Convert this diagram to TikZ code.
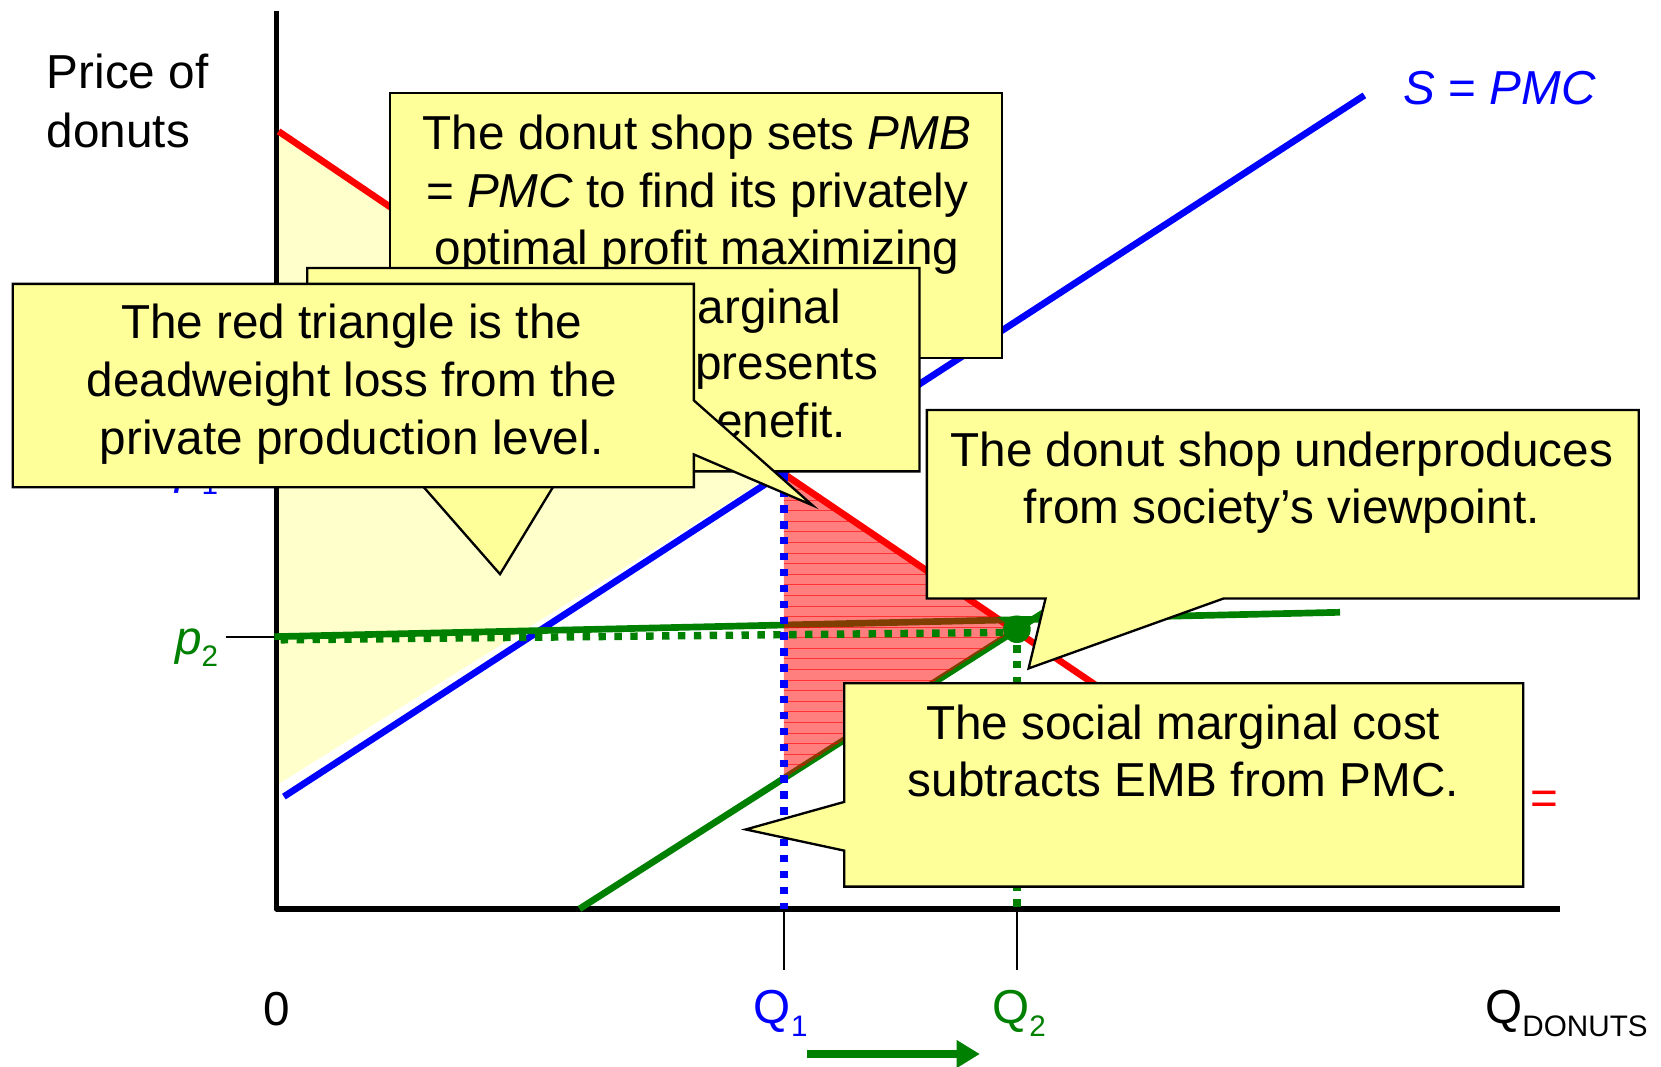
\documentclass[tikz,border=0pt]{standalone}
\usepackage{fontspec}
\setmainfont{Liberation Sans}
\usetikzlibrary{arrows.meta}
\definecolor{cyel}{HTML}{FFFF99}
\definecolor{syel}{HTML}{FFFFCC}
\definecolor{dgreen}{HTML}{008000}
\definecolor{cblue}{HTML}{0000FF}
\newcommand{\bigtxt}{\fontsize{45}{54}\selectfont}
\newcommand{\subtxt}{\fontsize{28}{30}\selectfont}
\begin{document}
\begin{tikzpicture}[x=1pt,y=-1pt,
  txt/.style={inner sep=0pt,font=\bigtxt,anchor=base},
  callout/.style={fill=cyel,draw=black,line width=2.2pt,line join=miter},
  curve/.style={line width=6.3pt},
  dotline/.style={line width=7pt,dash pattern=on 7pt off 8pt},
  tickline/.style={line width=1.8pt}]
\useasboundingbox (0,0) rectangle (1568,1007);
% key points
\coordinate (ytop) at (261,10);
\coordinate (O) at (261,858);
\coordinate (xend) at (1473,858);
\coordinate (dA) at (263,124);
\coordinate (dB) at (1200,759);
\coordinate (sA) at (268,752);
\coordinate (sB) at (1288,90);
\coordinate (gA) at (547,858);
\coordinate (gB) at (1020,556);
\coordinate (E1) at (740,447);
\coordinate (E2) at (958,594);
\coordinate (E3) at (740,735);
\coordinate (Q1b) at (740,858);
\coordinate (Q1t) at (740,916);
\coordinate (Q2d) at (960,594);
\coordinate (Q2b) at (960,858);
\coordinate (Q2t) at (960,916);
% surplus area
\fill[syel] (263,124) -- (738,443) -- (263,740) -- cycle;
% axes
\draw[line width=5.5pt,line join=round] (ytop) -- (O) -- (xend);
% curves
\draw[red,curve] (dA) -- (dB);
\draw[cblue,curve] (sA) -- (sB);
\draw[dgreen,curve] (gA) -- (gB);
\draw[dgreen,curve] (259,601) -- (1265,578);
% deadweight loss triangle
\fill[red,fill opacity=0.5] (E1) -- (E2) -- (E3) -- cycle;
\begin{scope}
\clip (E1) -- (E2) -- (E3) -- cycle;
\foreach \yy in {452,462,...,742} \draw[red,line width=0.8pt,opacity=0.6] (735,\yy) -- (965,\yy);
\end{scope}
% dotted guides
\draw[dgreen,dotline] (265,604) -- (950,597);
\draw[cblue,dotline] (E1) -- (Q1b);
\draw[dgreen,dotline] (Q2d) -- (Q2b);
\fill[dgreen] (Q2d) circle[radius=13pt];
% ticks
\draw[tickline] (Q1b) -- (Q1t);
\draw[tickline] (Q2b) -- (Q2t);
\draw[tickline] (213,601) -- (259,601);
% arrow
\coordinate (arA) at (762,995);
\coordinate (arB) at (925,995);
\draw[dgreen,line width=8pt,-{Triangle[length=22pt,width=25pt]}] (arA) -- (arB);
% labels
\node[txt,anchor=base west] (ylab1) at (44,84) {Price of};
\node[txt,anchor=base west] (ylab2) at (44,139) {donuts};
\node[txt,text=cblue,anchor=base west] (slab) at (1325,99) {\textit{S} = \textit{PMC}};
\node[txt] (zero) at (261,968) {0};
\node[txt,text=cblue] (q1) at (737,966) {Q\raisebox{-12pt}{\subtxt 1}};
\node[txt,text=dgreen] (q2) at (962,966) {Q\raisebox{-12pt}{\subtxt 2}};
\node[txt,anchor=base west] (qd) at (1402,966) {Q\raisebox{-12pt}{\subtxt DONUTS}};
\node[txt,text=dgreen,anchor=base west] (p2) at (165,618) {\textit{p}\raisebox{-11pt}{\subtxt 2}};
\node[txt,text=cblue,anchor=base west] (p1) at (165,456) {\textit{p}\raisebox{-11pt}{\subtxt 1}};
\node[txt,text=red] (eq) at (1458,769) {=};
% callout A
\draw[callout] (368,88) rectangle (946,338);
\node[txt] (a1) at (658,141) {The donut shop sets \textit{PMB}};
\node[txt] (a2) at (658,195.5) {= \textit{PMC} to find its privately};
\node[txt] (a3) at (658,250) {optimal profit maximizing};
% callout B
\draw[callout] (290,253) -- (868,253) -- (868,445) -- (531,445) -- (472,542) -- (387,445) -- (290,445) -- cycle;
\node[txt,anchor=base east] (b1) at (794,305) {marginal};
\node[txt,anchor=base east] (b2) at (829,358.5) {presents};
\node[txt,anchor=base east] (b3) at (799,413) {enefit.};
% callout 1
\draw[callout] (12,268) -- (655,268) -- (655,378) -- (767,477) -- (655,429) -- (655,460) -- (12,460) -- cycle;
\node[txt] (c1) at (332,320) {The red triangle is the};
\node[txt] (c2) at (332,374.5) {deadweight loss from the};
\node[txt] (c3) at (332,429) {private production level.};
% callout C
\draw[callout] (875,387) -- (1547,387) -- (1547,565) -- (1155,565) -- (971,631) -- (987,565) -- (875,565) -- cycle;
\node[txt] (d1) at (1210,440) {The donut shop underproduces};
\node[txt] (d2) at (1210,494) {from society’s viewpoint.};
% callout D
\draw[callout] (797,645) -- (1438,645) -- (1438,837) -- (797,837) -- (797,803) -- (704,783) -- (797,757) -- cycle;
\node[txt] (e1) at (1117,698) {The social marginal cost};
\node[txt] (e2) at (1117,752) {subtracts EMB from PMC.};
\end{tikzpicture}
\end{document}
